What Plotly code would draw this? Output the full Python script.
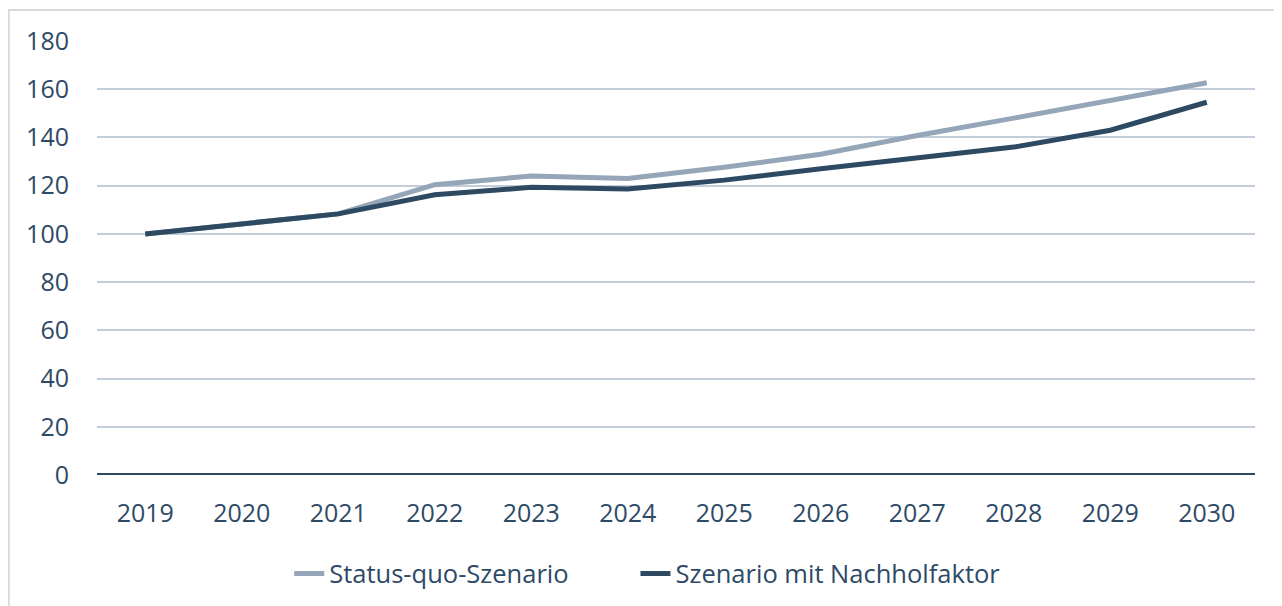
import plotly.graph_objects as go

years = ["2019", "2020", "2021", "2022", "2023", "2024", "2025", "2026", "2027", "2028", "2029", "2030"]
status_quo = [100, 104, 108.3, 120.4, 124, 123, 127.6, 133, 140.8, 148, 155.3, 162.7]
nachholfaktor = [100, 104, 108.3, 116.2, 119.3, 118.6, 122.3, 127, 131.3, 136, 143, 154.6]
y_ticks = [0, 20, 40, 60, 80, 100, 120, 140, 160, 180]

TEXT = "#2E4A66"
LIGHT = "#94A6B8"
DARK = "#2E4A62"
GRID = "#C3CEDA"
FONT = "Open Sans"

fig = go.Figure()
fig.add_trace(go.Scatter(x=years, y=status_quo, mode="lines", name="Status-quo-Szenario",
                         line=dict(color=LIGHT, width=5), legend="legend"))
fig.add_trace(go.Scatter(x=years, y=nachholfaktor, mode="lines", name="Szenario mit Nachholfaktor",
                         line=dict(color=DARK, width=5), legend="legend2"))

legend_common = dict(orientation="h", xanchor="left", y=-0.228, yanchor="middle",
                     font=dict(family=FONT, size=25.5, color=TEXT),
                     bgcolor="rgba(0,0,0,0)")

fig.update_layout(
    width=1282, height=606,
    margin=dict(l=89, r=35, t=33, b=139),
    paper_bgcolor="white", plot_bgcolor="white",
    font=dict(family=FONT, size=25, color=TEXT),
    showlegend=True,
    legend=dict(x=0.166, **legend_common),
    legend2=dict(x=0.465, **legend_common),
    xaxis=dict(type="category", range=[-0.5, 11.5], showgrid=False, zeroline=False,
               showline=False, ticks="", ticklabelstandoff=21,
               tickfont=dict(family=FONT, size=25, color=TEXT)),
    yaxis=dict(range=[0, 180], tickvals=y_ticks, showgrid=True, gridcolor=GRID, gridwidth=2,
               zeroline=False, showline=False, ticks="", ticklabelstandoff=27,
               tickfont=dict(family=FONT, size=25, color=TEXT)),
    shapes=[
        dict(type="line", xref="paper", yref="y", x0=0, x1=1, y0=0, y1=0,
             line=dict(color=DARK, width=4), layer="above"),
        dict(type="rect", xref="paper", yref="paper", x0=-0.0762, x1=1.2, y0=-0.4, y1=1.0714,
             line=dict(color="#D9D9D9", width=2), layer="below"),
    ],
)

fig.write_html("out.html")
